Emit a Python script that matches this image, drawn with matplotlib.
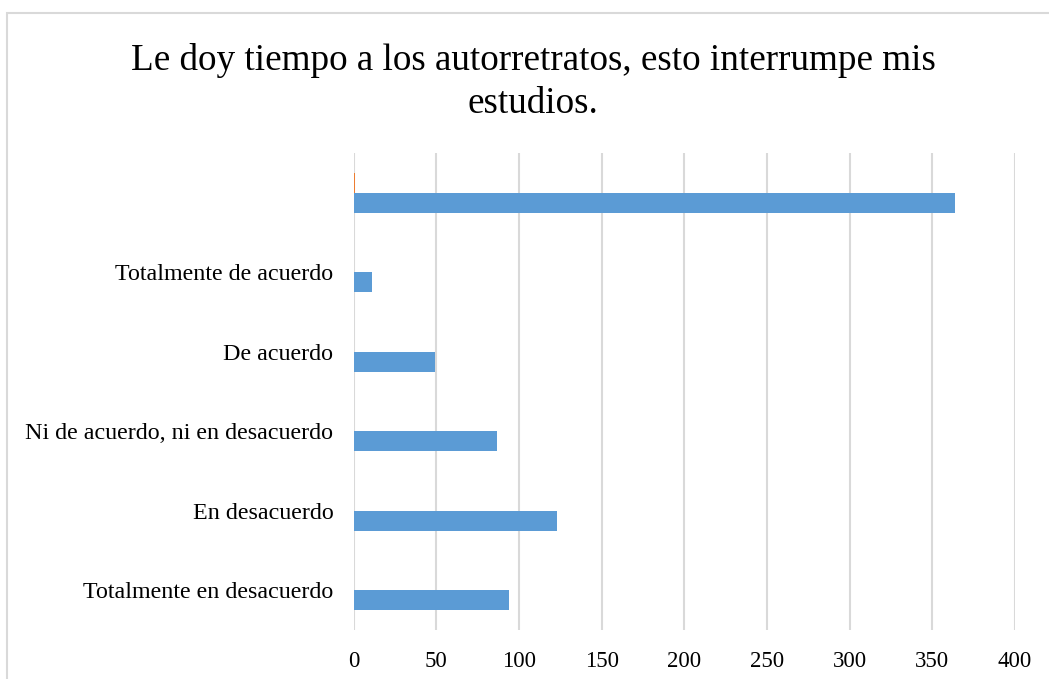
import numpy as np
import matplotlib.pyplot as plt
from matplotlib.patches import Rectangle

# Datos
categorias = ["Totalmente en desacuerdo", "En desacuerdo",
              "Ni de acuerdo, ni en desacuerdo", "De acuerdo",
              "Totalmente de acuerdo", ""]
serie_azul = [94, 123, 87, 49, 11, 364]
serie_naranja = [0, 0, 0, 0, 0, 1]

titulo = "Le doy tiempo a los autorretratos, esto interrumpe mis\nestudios."
xticks = [0, 50, 100, 150, 200, 250, 300, 350, 400]

plt.rcParams["font.family"] = ["Liberation Serif", "DejaVu Serif"]

fig = plt.figure(figsize=(10.49, 6.79), dpi=100)
# Marco gris del area del grafico
fig.patches.append(Rectangle((7 / 1049, -0.05), 1.1, 1 - 13 / 679 + 0.05,
                             transform=fig.transFigure, fill=False,
                             edgecolor="#d9d9d9", linewidth=1.5))

ax = fig.add_axes([353.5 / 1049, 1 - 630 / 679, (1015 - 353.5) / 1049,
                   (630 - 153) / 679])
y = np.arange(len(categorias))
h = 0.25
ax.barh(y - h / 2, serie_azul, height=h, color="#5b9bd5", zorder=3)
ax.barh(y + h / 2, serie_naranja, height=h, color="#ed7d31", zorder=3)

ax.set_xlim(0, 400)
ax.set_ylim(-0.5, len(categorias) - 0.5)
ax.set_xticks(xticks)
ax.set_yticks(y)
ax.set_yticklabels(categorias)
ax.tick_params(axis="y", length=0, labelsize=17.3, pad=14.5)
ax.tick_params(axis="x", length=0, labelsize=16.5, pad=15)
ax.grid(axis="x", color="#d9d9d9", linewidth=1.5, zorder=0)
for s in ax.spines.values():
    s.set_visible(False)

fig.text(533 / 1049, 1 - 82 / 679, titulo, ha="center", va="center",
         fontsize=26.7, linespacing=1.32)

fig.savefig("out.png", dpi=100)
